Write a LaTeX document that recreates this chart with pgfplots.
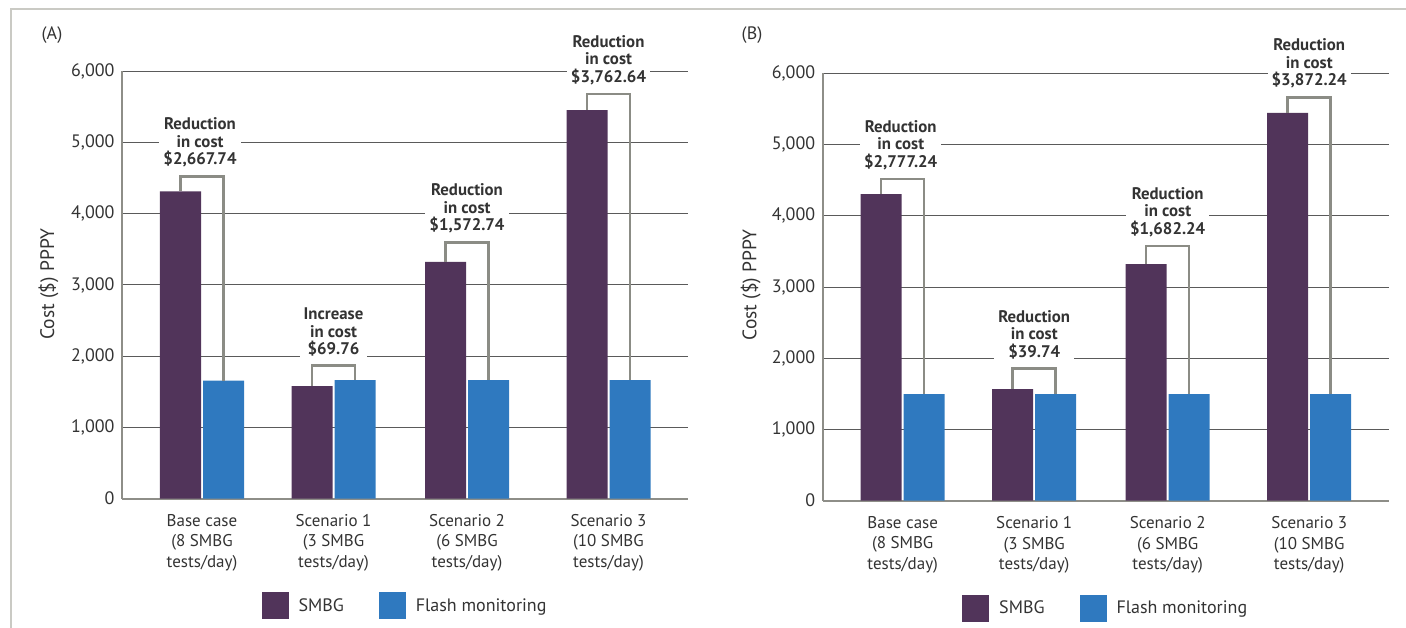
\documentclass[border=0pt]{standalone}
\usepackage{pgfplots}
\pgfplotsset{compat=1.18}
\usepackage{fontspec}
\setmainfont{PT Sans}
\definecolor{smbg}{HTML}{51345A}
\definecolor{flash}{HTML}{2F79BF}
\definecolor{brk}{HTML}{8B8C85}
\definecolor{axg}{HTML}{8E8E88}
\definecolor{grd}{HTML}{5A5A5A}
\definecolor{frm}{HTML}{CACAC4}
\definecolor{txt}{HTML}{333333}
\tikzset{
  lbl/.style={anchor=south, fill=white, align=center, text=txt,
    font=\bfseries\fontsize{16.8}{17.5}\selectfont, inner xsep=4pt, inner ysep=2pt, yshift=7pt},
}
\pgfplotsset{
  panel/.style={
    width=566pt, height=427.3pt, scale only axis, clip=false,
    xmin=0, xmax=566, ymin=0, ymax=6000,
    axis x line=bottom, axis y line=left,
    axis line style={draw=axg, line width=2pt, -},
    ytick={0,1000,2000,3000,4000,5000,6000},
    ymajorgrids, grid style={grd, line width=0.9pt},
    major tick length=0pt,
    xtick={80,211.5,345,486.5},
    xticklabels={{Base case\\(8 SMBG\\tests/day)},{Scenario 1\\(3 SMBG\\tests/day)},{Scenario 2\\(6 SMBG\\tests/day)},{Scenario 3\\(10 SMBG\\tests/day)}},
    xticklabel style={align=center, font=\fontsize{17}{20.7}\selectfont, text=txt, yshift=-12pt},
    yticklabel style={font=\fontsize{18}{20}\selectfont, text=txt, xshift=-4pt},
    /pgf/number format/assume math mode=true,
    /pgf/number format/1000 sep={,},
    scaled y ticks=false,
    legend style={at={(0.5,-0.2513)}, anchor=center, draw=none, fill=none,
      legend columns=2, font=\fontsize{18}{20}\selectfont, text=txt,
      /tikz/every odd column/.append style={column sep=8pt},
      /tikz/every even column/.append style={column sep=33pt},
      cells={anchor=west}},
  },
  brkt/.style={brk, line width=2.5pt, line join=miter, sharp plot, forget plot},
  sbar/.style={ybar, bar width=41, bar shift=0pt, fill=smbg, draw=none,
    legend image code/.code={\fill[smbg] (0pt,-13.5pt) rectangle (27pt,13.5pt);}},
  fbar/.style={ybar, bar width=41, bar shift=0pt, fill=flash, draw=none,
    legend image code/.code={\fill[flash] (0pt,-13.5pt) rectangle (27pt,13.5pt);}},
}
\begin{document}
\begin{tikzpicture}
\useasboundingbox (0pt,0pt) rectangle (1406pt,628pt);
\draw[frm, line width=1.5pt] (11pt,0pt) -- (11pt,619pt) -- (1406pt,619pt);
\node[text=txt, font=\fontsize{18}{20}\selectfont] at (52pt,593pt) {(A)};
\node[text=txt, font=\fontsize{18}{20}\selectfont] at (752pt,593pt) {(B)};

% Panel A
\begin{axis}[panel, at={(122pt,129.4pt)}, anchor=south west]
\addplot[sbar] coordinates {(58.5,4314) (190,1581) (323.5,3324) (465,5455)};
\addlegendentry{SMBG}
\addplot[fbar] coordinates {(101.5,1655) (233,1662) (366.5,1662) (508,1662)};
\addlegendentry{Flash monitoring}
\addplot[brkt] coordinates {(58.5,4314) (58.5,4521) (101.5,4521) (101.5,1655)};
\addplot[brkt] coordinates {(190,1581) (190,1868) (233,1868) (233,1662)};
\addplot[brkt] coordinates {(323.5,3324) (323.5,3594) (366.5,3594) (366.5,1662)};
\addplot[brkt] coordinates {(465,5455) (465,5681) (508,5681) (508,1662)};
\node[lbl] at (axis cs:78,4521) {Reduction\\in cost\\\$2,667.74};
\node[lbl] at (axis cs:211.5,1868) {Increase\\in cost\\\$69.76};
\node[lbl] at (axis cs:345,3594) {Reduction\\in cost\\\$1,572.74};
\node[lbl] at (axis cs:486.5,5681) {Reduction\\in cost\\\$3,762.64};
\node[rotate=90, text=txt, font=\fontsize{19.5}{20}\selectfont] at (axis description cs:-0.13,0.502) {Cost (\$) PPPY};
\end{axis}

% Panel B
\begin{axis}[panel, at={(822.7pt,127.3pt)}, anchor=south west]
\addplot[sbar] coordinates {(58.5,4306) (190,1567) (323.5,3323) (465,5444)};
\addlegendentry{SMBG}
\addplot[fbar] coordinates {(101.5,1496) (233,1496) (366.5,1496) (508,1496)};
\addlegendentry{Flash monitoring}
\addplot[brkt] coordinates {(58.5,4306) (58.5,4516) (101.5,4516) (101.5,1496)};
\addplot[brkt] coordinates {(190,1567) (190,1859) (233,1859) (233,1496)};
\addplot[brkt] coordinates {(323.5,3323) (323.5,3576) (366.5,3576) (366.5,1496)};
\addplot[brkt] coordinates {(465,5444) (465,5663) (508,5663) (508,1496)};
\node[lbl] at (axis cs:78,4516) {Reduction\\in cost\\\$2,777.24};
\node[lbl] at (axis cs:211.5,1859) {Reduction\\in cost\\\$39.74};
\node[lbl] at (axis cs:345,3576) {Reduction\\in cost\\\$1,682.24};
\node[lbl] at (axis cs:486.5,5663) {Reduction\\in cost\\\$3,872.24};
\node[rotate=90, text=txt, font=\fontsize{19.5}{20}\selectfont] at (axis description cs:-0.127,0.505) {Cost (\$) PPPY};
\end{axis}
\end{tikzpicture}
\end{document}
